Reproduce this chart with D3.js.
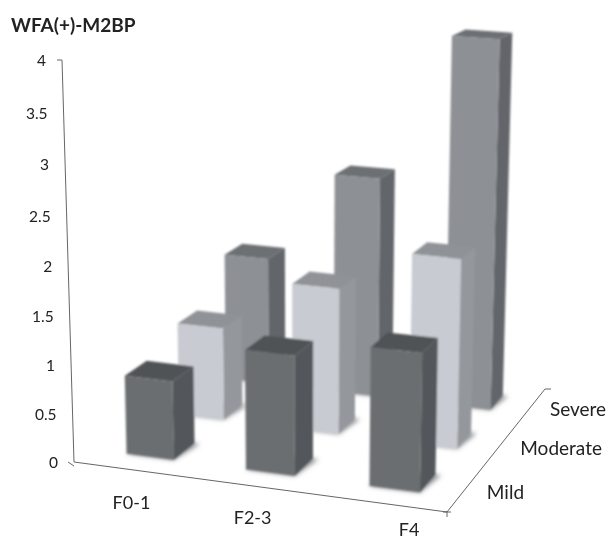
<!DOCTYPE html>
<html>
<head>
<meta charset="utf-8">
<script src="https://cdn.jsdelivr.net/npm/d3@7"></script>
<style>
body { margin: 0; background: #fff; }
text { font-family: Lato, "Open Sans", sans-serif; fill: #222; }
</style>
</head>
<body>
<div id="chart"></div>
<script>
let width = 610;
let height = 540;

const categories = ["F0-1", "F2-3", "F4"];
const severities = ["Mild", "Moderate", "Severe"];
const mildValues = [0.82, 1.23, 1.4];
const moderateValues = [1.0, 1.56, 2.0];
const severeValues = [1.43, 2.44, 4.02];
const valueTicks = ["0", "0.5", "1", "1.5", "2", "2.5", "3", "3.5", "4"];

// face colours per series: front, side, top
const shades = {
    Mild: ["#6b6e71", "#53565a", "#505256"],
    Moderate: ["#c8cbd1", "#94979c", "#8f9297"],
    Severe: ["#8d9095", "#62656a", "#6c6f73"]
};

// image of the chart box corners, the picture is a 3d excel chart
const O = [74, 462], X = [447, 512], L = [225, 352], D = [545, 389], H = [62, 60];
const wH = 0.95;

// weights of the projective frame from the four floor corners
const det = (X[0] - D[0]) * (L[1] - D[1]) - (L[0] - D[0]) * (X[1] - D[1]);
const wX = ((O[0] - D[0]) * (L[1] - D[1]) - (L[0] - D[0]) * (O[1] - D[1])) / det;
const wZ = ((X[0] - D[0]) * (O[1] - D[1]) - (O[0] - D[0]) * (X[1] - D[1])) / det;

function project(x, z, h) {
    const l = 1 - x - z - h;
    const w = l + wX * x + wZ * z + wH * h;
    return [0, 1].map(i => (l * O[i] + wX * x * X[i] + wZ * z * L[i] + wH * h * H[i]) / w);
}

const xScale = d3.scaleBand().domain(categories).range([0, 1]).paddingInner(0.6).paddingOuter(0.3);
const zScale = d3.scaleBand().domain(severities).range([0, 1]).paddingInner(0.6).paddingOuter(0.3);
const yScale = d3.scaleLinear().domain([0, 4]).range([0, 1]);

const svg = d3.select("#chart")
    .append("svg")
    .attr("width", width)
    .attr("height", height);

const defs = svg.append("defs");
defs.append("filter").attr("id", "soft").append("feGaussianBlur").attr("stdDeviation", 0.8);
defs.append("filter").attr("id", "shadow")
    .attr("x", "-30%").attr("y", "-30%").attr("width", "160%").attr("height", "160%")
    .append("feGaussianBlur").attr("stdDeviation", 2);

const poly = pts => d3.line()(pts) + "Z";

const rows = [
    { name: "Severe", values: severeValues },
    { name: "Moderate", values: moderateValues },
    { name: "Mild", values: mildValues }
];

const bars = svg.append("g").attr("filter", "url(#soft)");

rows.forEach(row => {
    categories.forEach((cat, i) => {
        const x0 = xScale(cat), x1 = x0 + xScale.bandwidth();
        const z0 = zScale(row.name), z1 = z0 + zScale.bandwidth();
        const h = yScale(row.values[i]);
        const c = shades[row.name];
        const g = bars.append("g");
        g.append("path")
            .attr("d", poly([project(x0, z0, 0), project(x1, z0, 0), project(x1 + 0.015, z1, 0), project(x0 + 0.015, z1, 0)]))
            .attr("fill", "#8a8d92")
            .attr("filter", "url(#shadow)");
        g.append("path")
            .attr("d", poly([project(x0, z1, h), project(x1, z1, h), project(x1, z0, h), project(x0, z0, h)]))
            .attr("fill", c[2]);
        g.append("path")
            .attr("d", poly([project(x1, z0, 0), project(x1, z1, 0), project(x1, z1, h), project(x1, z0, h)]))
            .attr("fill", c[1]);
        g.append("path")
            .attr("d", poly([project(x0, z0, 0), project(x1, z0, 0), project(x1, z0, h), project(x0, z0, h)]))
            .attr("fill", c[0]);
    });
});

// axis lines with the little end ticks
const axisLines = [
    [project(0, 0, 1), project(0, 0, 0)],
    [project(0, 0, 0), project(1, 0, 0)],
    [project(1, 0, 0), project(1, 1, 0)],
    [[project(0, 0, 1)[0] - 5, project(0, 0, 1)[1]], project(0, 0, 1)],
    [[O[0] - 6, O[1]], [O[0], O[1] + 4]],
    [[X[0], X[1] - 1], [X[0], X[1] + 5]],
    [[X[0] - 4, X[1]], [X[0] + 4, X[1]]],
    [D, [D[0] + 6, D[1]]]
];
svg.append("g").selectAll("path")
    .data(axisLines)
    .join("path")
    .attr("d", d => d3.line()(d))
    .attr("fill", "none")
    .attr("stroke", "#666")
    .attr("stroke-width", 1);

svg.append("g").selectAll("text")
    .data(valueTicks)
    .join("text")
    .attr("x", d => project(0, 0, yScale(+d))[0] - 16)
    .attr("y", d => project(0, 0, yScale(+d))[1] + 6)
    .attr("text-anchor", "end")
    .attr("font-size", 15.5)
    .text(d => d);

// label nudges, the excel labels do not sit evenly along the edges
const catNudge = [[-2, 39], [-3, 38], [27, 33]];
const depthNudge = [[21, 11], [20, 10], [19, 9]];

svg.append("g").selectAll("text")
    .data(categories)
    .join("text")
    .attr("x", (d, i) => project(xScale(d) + xScale.bandwidth() / 2, 0, 0)[0] + catNudge[i][0])
    .attr("y", (d, i) => project(xScale(d) + xScale.bandwidth() / 2, 0, 0)[1] + catNudge[i][1])
    .attr("text-anchor", "middle")
    .attr("font-size", 18)
    .text(d => d);

svg.append("g").selectAll("text")
    .data(severities)
    .join("text")
    .attr("x", (d, i) => project(1, zScale(d) + zScale.bandwidth() / 2, 0)[0] + depthNudge[i][0])
    .attr("y", (d, i) => project(1, zScale(d) + zScale.bandwidth() / 2, 0)[1] + depthNudge[i][1])
    .attr("font-size", 19)
    .text(d => d);

svg.append("text")
    .attr("x", 11)
    .attr("y", 32)
    .attr("font-size", 19)
    .attr("font-weight", 700)
    .text("WFA(+)-M2BP");
</script>
</body>
</html>
